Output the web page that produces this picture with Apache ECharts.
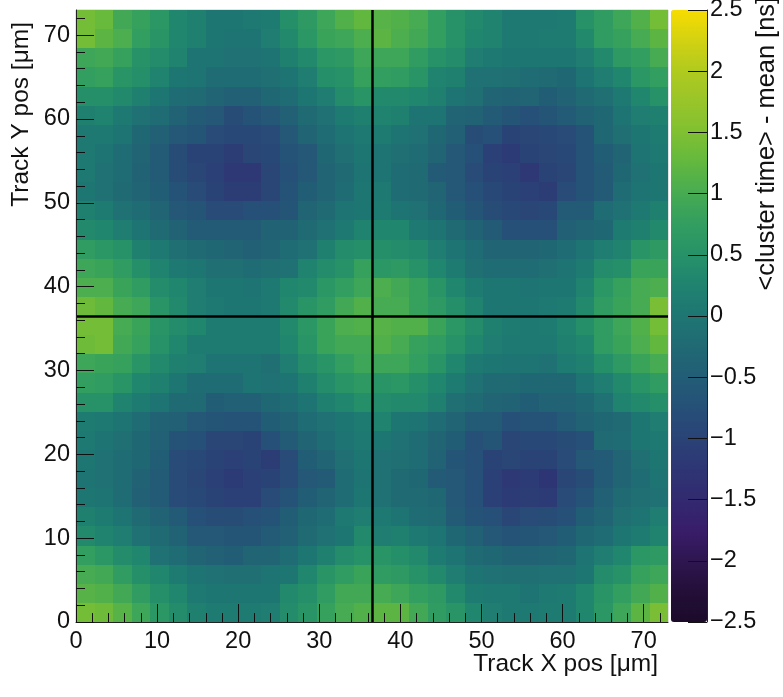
<!DOCTYPE html>
<html><head><meta charset="utf-8">
<style>html,body{margin:0;padding:0;background:#fff}#c{width:783px;height:697px}</style>
<script src="https://cdn.jsdelivr.net/npm/echarts@6/dist/echarts.min.js"></script>
</head><body><div id="c"></div>
<script>
const axisMax = 73;
const binWidth = 2.28125;
const crossAt = 36.5;
const majorTicks = [0,10,20,30,40,50,60,70];
const minorTicks = [2,4,6,8,12,14,16,18,22,24,26,28,32,34,36,38,42,44,46,48,52,54,56,58,62,64,66,68,72];
const palette = ['#1c0a2a','#230f38','#2e1650','#391d6a','#322a70','#2e3574','#2a4377','#265077','#225d76','#206a74','#1e7672','#1f8370','#279268','#329e60','#46ab52','#62b83f','#80c032','#98c529','#b0ca1f','#d2d212','#f8dc00'];
// rows listed from the top of the plot (Y high) to the bottom (Y low)
const r31=[1.4,1.3,0.95,0.8,0.6,0.3,0.2,0.0,0.0,0.05,0.1,0.45,0.65,0.9,1.1,1.25,1.15,1.1,1.0,0.75,0.5,0.35,0.25,0.05,0.05,0.05,0.1,0.5,0.7,0.9,1.1,1.4];
const r30=[1.4,1.2,1.05,0.75,0.55,0.3,0.2,0.0,-0.05,-0.05,0.15,0.35,0.6,0.85,0.9,1.05,1.2,1.05,0.95,0.75,0.5,0.3,0.25,0.05,0.05,0.1,0.1,0.35,0.7,0.8,1.0,1.2];
const r29=[0.9,0.95,0.8,0.5,0.4,0.25,-0.05,-0.05,-0.1,-0.1,-0.05,0.2,0.35,0.6,0.65,0.9,0.9,0.9,0.7,0.5,0.4,0.15,0.05,0.0,0.0,0.0,0.0,0.15,0.35,0.65,0.75,1.0];
const r28=[0.75,0.8,0.55,0.45,0.25,0.0,-0.05,-0.2,-0.2,-0.2,-0.15,-0.05,0.15,0.45,0.5,0.8,0.75,0.7,0.55,0.25,0.2,-0.1,-0.1,-0.15,-0.2,-0.25,-0.3,-0.05,0.15,0.3,0.6,0.75];
const r27=[0.45,0.45,0.35,0.2,0,-0.2,-0.25,-0.35,-0.45,-0.45,-0.3,-0.2,0,0.15,0.4,0.55,0.35,0.35,0.3,0.2,-0.05,-0.15,-0.35,-0.4,-0.35,-0.5,-0.4,-0.25,-0.15,0.05,0.3,0.5];
const r26=[0.2,0.25,0.05,-0.1,-0.2,-0.4,-0.55,-0.6,-0.8,-0.7,-0.6,-0.45,-0.25,-0.1,0.1,0.2,0.25,0.2,-0.05,-0.05,-0.35,-0.4,-0.55,-0.65,-0.75,-0.65,-0.55,-0.4,-0.3,-0.05,0.15,0.2];
const r25=[0.05,0.05,-0.05,-0.3,-0.45,-0.6,-0.65,-0.85,-0.9,-0.9,-0.85,-0.6,-0.35,-0.2,-0.05,0.05,0.1,-0.05,-0.1,-0.3,-0.45,-0.8,-0.75,-1.0,-0.95,-0.9,-0.85,-0.7,-0.3,-0.15,0.0,0.1];
const r24=[0.05,-0.05,-0.2,-0.35,-0.55,-0.8,-1.0,-1.0,-1.1,-0.95,-0.9,-0.7,-0.6,-0.3,-0.15,0.0,-0.05,-0.15,-0.2,-0.35,-0.6,-0.75,-1.05,-1.15,-1.0,-0.95,-0.9,-0.7,-0.5,-0.35,-0.05,0.05];
const r23=[0.05,-0.1,-0.2,-0.4,-0.55,-0.8,-0.95,-1.05,-1.2,-1.2,-0.95,-0.75,-0.6,-0.35,-0.25,-0.05,-0.05,-0.2,-0.25,-0.55,-0.6,-0.85,-1.0,-1.05,-1.2,-1.0,-0.95,-0.7,-0.55,-0.3,-0.1,0.0];
const r22=[0.0,-0.1,-0.25,-0.35,-0.5,-0.7,-0.85,-1.0,-1.1,-1.1,-0.95,-0.7,-0.5,-0.35,-0.2,0.0,0.05,-0.2,-0.25,-0.35,-0.6,-0.75,-0.9,-1.0,-1.05,-1.1,-0.85,-0.7,-0.55,-0.2,-0.05,0.0];
const r21=[0.2,0.1,-0.1,-0.2,-0.35,-0.6,-0.65,-0.85,-0.85,-0.75,-0.75,-0.65,-0.35,-0.25,-0.05,0.0,0.1,-0.05,-0.1,-0.3,-0.5,-0.65,-0.8,-0.9,-0.95,-0.9,-0.55,-0.55,-0.2,-0.1,0.05,0.2];
const r20=[0.35,0.3,0.15,-0.05,-0.25,-0.4,-0.55,-0.55,-0.55,-0.55,-0.4,-0.4,-0.25,-0.1,0.05,0.25,0.3,0.3,0.05,-0.05,-0.25,-0.4,-0.55,-0.75,-0.75,-0.75,-0.45,-0.35,-0.3,0.1,0.2,0.35];
const r19=[0.7,0.6,0.5,0.2,0.05,-0.15,-0.25,-0.3,-0.35,-0.45,-0.35,-0.2,-0.1,0.2,0.4,0.45,0.45,0.4,0.35,0.15,-0.05,-0.2,-0.35,-0.35,-0.35,-0.3,-0.2,-0.05,0.15,0.25,0.55,0.65];
const r18=[0.9,0.85,0.7,0.45,0.25,0.05,0.0,-0.15,-0.15,-0.2,-0.15,-0.1,0.25,0.4,0.5,0.8,0.6,0.65,0.5,0.3,0.1,-0.15,-0.2,-0.2,-0.2,-0.15,-0.05,0.1,0.4,0.45,0.85,0.85];
const r17=[1.05,1.05,0.85,0.7,0.4,0.3,0.15,0.0,0.0,-0.05,0.05,0.3,0.35,0.6,0.75,0.9,1.05,0.95,0.8,0.55,0.3,0.1,0.0,0.0,-0.05,0.0,0.0,0.25,0.6,0.8,1.0,1.05];
const r16=[1.35,1.25,1.0,0.9,0.55,0.35,0.15,0.05,0.0,0.0,0.05,0.35,0.55,0.7,0.95,1.1,1.0,1.0,0.8,0.65,0.45,0.25,0.0,0.0,0.0,0.05,0.1,0.35,0.7,0.85,1.0,1.45];
const r15=[1.4,1.4,1.0,0.85,0.55,0.4,0.3,0.1,0.1,0.1,0.1,0.35,0.6,0.85,1.05,1.1,1.15,1.1,1.1,0.85,0.6,0.4,0.2,0.1,0.05,0.1,0.25,0.45,0.7,0.9,1.1,1.4];
const r14=[1.35,1.4,0.95,0.8,0.5,0.3,0.1,0.1,0.1,0.1,0.1,0.3,0.55,0.85,0.95,0.95,1.1,1.0,0.8,0.7,0.5,0.3,0.15,0.05,0.05,0.05,0.2,0.3,0.7,0.85,1.05,1.25];
const r13=[0.9,0.85,0.8,0.55,0.35,0.2,0.15,-0.05,-0.05,-0.05,-0.15,0.15,0.4,0.55,0.75,0.9,0.9,0.9,0.75,0.55,0.3,0.05,0.0,-0.05,-0.05,-0.1,0.1,0.2,0.45,0.65,0.85,1.0];
const r12=[0.75,0.7,0.55,0.3,0.2,0.0,-0.2,-0.2,-0.2,-0.05,-0.1,-0.05,0.2,0.4,0.55,0.65,0.55,0.6,0.45,0.3,0.1,-0.1,-0.25,-0.25,-0.3,-0.3,-0.3,-0.05,0.15,0.35,0.55,0.7];
const r11=[0.5,0.5,0.25,0.1,-0.05,-0.25,-0.25,-0.5,-0.45,-0.45,-0.3,-0.2,-0.05,0.2,0.3,0.45,0.4,0.35,0.35,0.2,-0.15,-0.25,-0.35,-0.4,-0.5,-0.4,-0.4,-0.3,-0.1,0.25,0.35,0.45];
const r10=[0.1,0.05,-0.05,-0.2,-0.4,-0.45,-0.6,-0.65,-0.7,-0.7,-0.5,-0.4,-0.2,-0.1,0.0,0.1,0.25,0.0,-0.05,-0.2,-0.35,-0.55,-0.55,-0.75,-0.7,-0.7,-0.55,-0.4,-0.3,-0.25,0.0,0.15];
const r09=[0.05,-0.05,-0.15,-0.3,-0.45,-0.7,-0.75,-0.95,-0.95,-1.0,-0.75,-0.55,-0.35,-0.2,-0.05,0.05,0.0,-0.1,-0.2,-0.35,-0.5,-0.75,-0.65,-0.95,-0.9,-0.9,-0.8,-0.75,-0.25,-0.2,0.0,0.05];
const r08=[0.0,-0.1,-0.2,-0.3,-0.5,-0.85,-0.9,-1.0,-1.05,-1.0,-1.1,-0.85,-0.5,-0.35,-0.15,0.0,-0.1,-0.15,-0.2,-0.4,-0.65,-0.75,-1.0,-0.95,-1.0,-1.0,-0.85,-0.6,-0.55,-0.35,-0.15,0.0];
const r07=[-0.05,-0.1,-0.2,-0.4,-0.55,-0.85,-0.95,-1.05,-1.15,-1.05,-1.0,-0.85,-0.6,-0.55,-0.2,-0.05,-0.1,-0.25,-0.3,-0.55,-0.6,-0.75,-1.05,-1.2,-1.15,-1.25,-0.95,-0.8,-0.55,-0.35,-0.2,-0.05];
const r06=[0.0,-0.05,-0.2,-0.45,-0.55,-0.85,-0.9,-1.0,-1.05,-1.05,-0.85,-0.7,-0.5,-0.35,-0.2,0.0,-0.1,-0.25,-0.25,-0.3,-0.6,-0.75,-1.05,-1.15,-1.1,-1.15,-0.85,-0.7,-0.45,-0.25,-0.15,-0.1];
const r05=[0.2,0.1,-0.05,-0.25,-0.4,-0.55,-0.75,-0.8,-0.8,-0.75,-0.7,-0.5,-0.3,-0.2,0.05,0.15,0.05,-0.05,-0.2,-0.25,-0.55,-0.7,-0.75,-0.95,-0.85,-0.8,-0.75,-0.5,-0.35,-0.15,-0.05,0.15];
const r04=[0.35,0.25,0.15,-0.1,-0.25,-0.4,-0.6,-0.6,-0.65,-0.65,-0.55,-0.45,-0.25,-0.1,0.0,0.35,0.15,0.2,0.05,-0.05,-0.3,-0.45,-0.6,-0.7,-0.65,-0.6,-0.5,-0.3,-0.2,0.0,0.1,0.25];
const r03=[0.75,0.6,0.4,0.3,-0.1,-0.2,-0.35,-0.45,-0.5,-0.35,-0.35,-0.2,0.0,0.2,0.4,0.5,0.55,0.45,0.35,0.1,-0.05,-0.25,-0.3,-0.4,-0.4,-0.35,-0.3,-0.05,0.15,0.3,0.6,0.65];
const r02=[1.0,0.95,0.7,0.45,0.3,0.1,-0.05,-0.1,-0.15,-0.15,-0.05,0.0,0.3,0.55,0.7,0.85,0.7,0.65,0.5,0.35,0.15,-0.05,-0.1,-0.15,-0.15,-0.1,-0.1,0.0,0.4,0.5,0.8,0.9];
const r01=[1.15,1.1,0.95,0.7,0.45,0.3,0.05,0.0,0.0,0.0,0.0,0.35,0.45,0.7,0.95,0.95,1.0,0.9,0.75,0.65,0.35,0.1,0.05,0.05,-0.05,0.05,0.1,0.3,0.55,0.75,0.95,1.1];
const r00=[1.4,1.35,1.15,0.9,0.6,0.4,0.2,0.1,0.1,0.1,0.15,0.4,0.55,0.8,1.0,1.1,1.2,1.2,0.95,0.7,0.55,0.3,0.15,0.05,0.05,0.1,0.1,0.3,0.6,0.9,1.2,1.45];
const rows=[r00,r01,r02,r03,r04,r05,r06,r07,r08,r09,r10,r11,r12,r13,r14,r15,r16,r17,r18,r19,r20,r21,r22,r23,r24,r25,r26,r27,r28,r29,r30,r31];

const cells=[];
rows.forEach((row,j)=>row.forEach((v,i)=>cells.push([i*binWidth,j*binWidth,v])));

const font='"Liberation Sans", Arial, sans-serif';
const tickCol='#111';
const lab={fontFamily:font,fontSize:24.5,color:'#111'};
const minus=v=>String(v).replace('-','\u2212');
function majorAxis(extra,margin){return Object.assign({type:'value',min:0,max:axisMax,z:6,nameMoveOverlap:false,
  axisLine:{show:true,onZero:false,lineStyle:{color:'#222',width:1}},
  axisTick:{show:true,inside:true,length:18,customValues:majorTicks,lineStyle:{color:tickCol,width:1}},
  axisLabel:{show:true,customValues:majorTicks,margin:margin,fontFamily:font,fontSize:23.5,color:'#111'},
  splitLine:{show:false},nameTextStyle:lab},extra);}
function minorAxis(){return {type:'value',min:0,max:axisMax,z:6,
  axisLine:{show:false,onZero:false},
  axisTick:{show:true,inside:true,length:9,customValues:minorTicks,lineStyle:{color:tickCol,width:1}},
  axisLabel:{show:false},splitLine:{show:false}};}

const chart=echarts.init(document.getElementById('c'),null,{renderer:'canvas'});
chart.setOption({
  animation:false,backgroundColor:'#fff',
  grid:[
    {left:76,top:10,width:592,height:612,outerBoundsMode:'none',show:true,borderColor:'#c8c8c8',borderWidth:1,backgroundColor:'transparent'},
    {left:671,top:10,width:36,height:612,outerBoundsMode:'none'}
  ],
  xAxis:[
    majorAxis({gridIndex:0,position:'bottom',name:'Track X pos [\u03bcm]',nameLocation:'end',nameGap:-10,
      nameTextStyle:Object.assign({},lab,{align:'right',verticalAlign:'top',padding:[30,0,0,0]})},8),
    Object.assign(minorAxis(),{gridIndex:0,position:'bottom'}),
    {type:'value',gridIndex:1,min:0,max:1,show:false,axisLine:{onZero:false}}
  ],
  yAxis:[
    majorAxis({gridIndex:0,position:'left',name:'Track Y pos [\u03bcm]',nameLocation:'end',nameGap:-12,nameRotate:90,
      nameTextStyle:Object.assign({},lab,{align:'right',verticalAlign:'bottom',padding:[0,0,42,0]})},6),
    Object.assign(minorAxis(),{gridIndex:0,position:'left'}),
    {type:'value',gridIndex:1,position:'right',min:-2.5,max:2.5,interval:0.5,z:6,nameMoveOverlap:false,
     name:'<cluster time> - mean [ns]',nameLocation:'end',nameGap:13,nameRotate:90,
     nameTextStyle:Object.assign({},lab,{fontSize:25.4,align:'right',verticalAlign:'bottom',padding:[0,0,-72,0]}),
     axisLine:{show:true,onZero:false,lineStyle:{color:'#222',width:1}},
     axisTick:{show:true,inside:true,length:19,lineStyle:{color:tickCol,width:1}},
     axisLabel:{show:true,margin:3,fontFamily:font,fontSize:23.5,color:'#111',formatter:minus},
     splitLine:{show:false}}
  ],
  visualMap:{type:'continuous',min:-2.5,max:2.5,dimension:2,seriesIndex:0,show:true,calculable:false,
    left:671,top:10,itemWidth:36,itemHeight:612,padding:0,text:['',''],showLabel:false,z:4,
    inRange:{color:palette}},
  series:[{
    type:'custom',xAxisIndex:0,yAxisIndex:0,clip:true,silent:true,
    encode:{x:0,y:1},data:cells,
    renderItem:(params,api)=>{
      const x=api.value(0),y=api.value(1);
      const a=api.coord([x,y+binWidth]),b=api.coord([x+binWidth,y]);
      const x0=Math.round(a[0]),y0=Math.round(a[1]),x1=Math.round(b[0]),y1=Math.round(b[1]);
      return {type:'rect',shape:{x:x0,y:y0,width:x1-x0,height:y1-y0},style:{fill:api.visual('color')}};
    },
    markLine:{silent:true,symbol:'none',label:{show:false},animation:false,
      lineStyle:{color:'#000',width:2.5,type:'solid'},
      data:[{xAxis:crossAt},{yAxis:crossAt}]}
  }]
});
</script></body></html>
